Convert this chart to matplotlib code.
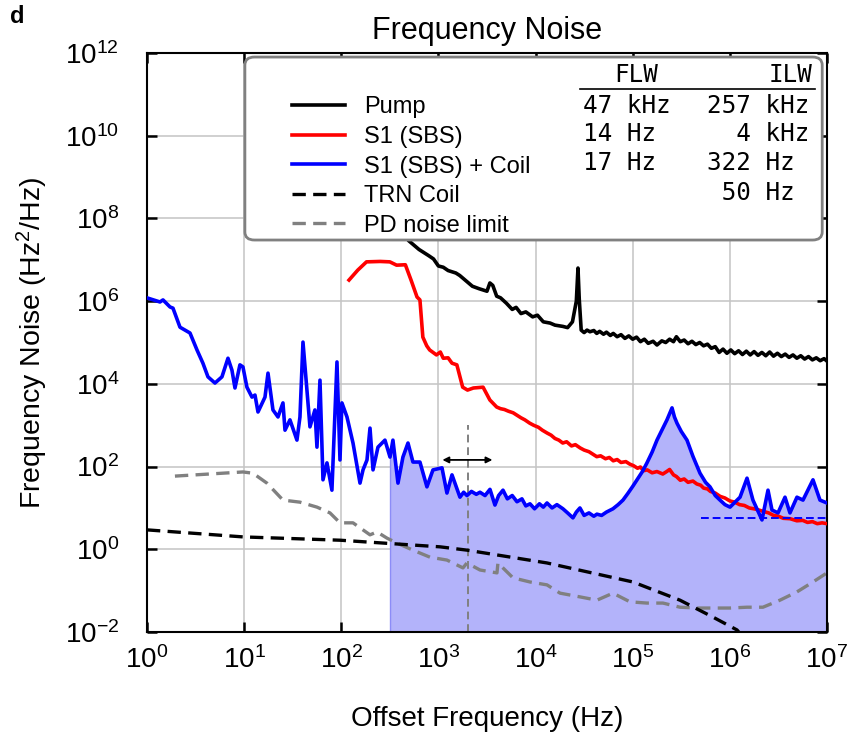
import numpy as np
import matplotlib.pyplot as plt
from matplotlib.patches import FancyBboxPatch
from matplotlib.ticker import LogLocator, NullLocator

plt.rcParams['font.family'] = ['Liberation Sans', 'DejaVu Sans']
plt.rcParams['mathtext.fontset'] = 'custom'
plt.rcParams['mathtext.rm'] = 'Liberation Sans'
plt.rcParams['mathtext.it'] = 'Liberation Sans:italic'

# values, as log10(frequency) / log10(noise)
pump_logf = [2.70, 2.80, 2.90, 2.95, 3.00, 3.05, 3.10, 3.18, 3.22, 3.28, 3.35, 3.42,
             3.50, 3.53, 3.56, 3.60, 3.64, 3.70, 3.76, 3.80, 3.85, 3.90, 3.97, 4.02,
             4.08, 4.15, 4.20, 4.28, 4.33, 4.38, 4.42, 4.437, 4.45,
             4.47, 4.50, 4.53, 4.56, 4.60, 4.63, 4.66, 4.70, 4.73, 4.77, 4.80, 4.84,
             4.88, 4.92, 4.96, 5.00, 5.04, 5.08, 5.12, 5.16, 5.21, 5.25, 5.30, 5.34,
             5.38, 5.42, 5.45, 5.49, 5.53, 5.57, 5.61, 5.65, 5.69, 5.73, 5.77, 5.81,
             5.85, 5.89, 5.93, 5.97, 6.01, 6.05, 6.09, 6.13, 6.17, 6.21, 6.25, 6.29,
             6.33, 6.37, 6.41, 6.45, 6.49, 6.53, 6.57, 6.61, 6.65, 6.69, 6.73, 6.77,
             6.81, 6.85, 6.89, 6.93, 6.97, 7.00]
pump_logS = [7.45, 7.25, 7.10, 7.02, 6.85, 6.82, 6.74, 6.68, 6.62, 6.50, 6.36, 6.30,
             6.24, 6.44, 6.38, 6.12, 6.08, 5.95, 5.80, 5.85, 5.70, 5.74, 5.62, 5.66,
             5.50, 5.47, 5.42, 5.39, 5.36, 5.50, 6.00, 6.80, 6.05,
             5.30, 5.24, 5.30, 5.26, 5.29, 5.22, 5.27, 5.20, 5.25, 5.17, 5.22, 5.14,
             5.19, 5.10, 5.16, 5.08, 5.13, 5.02, 5.08, 4.98, 5.03, 4.94, 5.04, 5.00,
             5.08, 5.02, 5.14, 5.02, 5.06, 4.97, 5.03, 4.95, 5.00, 4.92, 4.96, 4.86,
             4.90, 4.76, 4.84, 4.74, 4.82, 4.73, 4.80, 4.71, 4.79, 4.70, 4.78, 4.69,
             4.76, 4.68, 4.77, 4.67, 4.74, 4.66, 4.72, 4.64, 4.70, 4.62, 4.68, 4.60,
             4.66, 4.58, 4.63, 4.56, 4.61, 4.55]

sbs_logf = [2.08, 2.17, 2.26, 2.40, 2.50, 2.57, 2.66, 2.72, 2.78, 2.81, 2.84, 2.88,
            2.91, 2.98, 3.02, 3.05, 3.10, 3.14, 3.19, 3.25, 3.30, 3.36, 3.46, 3.53,
            3.60, 3.64, 3.68, 3.72, 3.77, 3.81, 3.85, 3.89, 3.94, 3.98, 4.03, 4.07,
            4.12, 4.16, 4.20, 4.24, 4.28, 4.32, 4.37, 4.41, 4.46, 4.50, 4.55, 4.59,
            4.63, 4.67, 4.72, 4.76, 4.80, 4.84, 4.88, 4.93, 4.97, 5.01, 5.05, 5.08,
            5.11, 5.15, 5.20, 5.25, 5.31, 5.35, 5.38, 5.42, 5.45, 5.49, 5.53, 5.57,
            5.62, 5.66, 5.70, 5.73, 5.77, 5.80, 5.85, 5.90, 5.95, 6.00, 6.05, 6.10,
            6.15, 6.20, 6.27, 6.34, 6.40, 6.45, 6.50, 6.55, 6.62, 6.69, 6.75, 6.80,
            6.85, 6.90, 6.95, 7.00]
sbs_logS = [6.51, 6.75, 6.95, 6.96, 6.95, 6.87, 6.88, 6.50, 6.10, 6.03, 5.13, 4.92,
            4.82, 4.70, 4.77, 4.62, 4.63, 4.50, 4.46, 3.92, 3.85, 3.90, 3.92, 3.61,
            3.44, 3.40, 3.38, 3.34, 3.30, 3.24, 3.18, 3.13, 3.05, 3.00, 2.95, 2.88,
            2.81, 2.76, 2.68, 2.64, 2.57, 2.60, 2.50, 2.53, 2.45, 2.40, 2.36, 2.30,
            2.24, 2.26, 2.19, 2.22, 2.14, 2.17, 2.10, 2.12, 2.06, 2.02, 1.96, 1.99,
            1.90, 1.92, 1.85, 1.88, 1.82, 1.88, 1.93, 1.80, 1.76, 1.67, 1.70, 1.62,
            1.65, 1.58, 1.55, 1.48, 1.46, 1.40, 1.36, 1.28, 1.24, 1.17, 1.14, 1.08,
            1.06, 1.00, 0.97, 0.92, 0.88, 0.82, 0.80, 0.75, 0.74, 0.69, 0.70, 0.65,
            0.67, 0.62, 0.64, 0.62]

coil_logf = [0.000, 0.134, 0.165, 0.237, 0.268, 0.340, 0.443, 0.515, 0.576, 0.628,
             0.700, 0.772, 0.834, 0.875, 0.906, 0.957, 0.988, 1.029, 1.081, 1.112,
             1.143, 1.215, 1.246, 1.297, 1.349, 1.400, 1.421, 1.472, 1.544, 1.575,
             1.606, 1.647, 1.678, 1.729, 1.750, 1.781, 1.812, 1.853, 1.904, 1.915,
             1.956, 1.987, 2.007, 2.059, 2.121, 2.193, 2.224, 2.265, 2.296, 2.327,
             2.378, 2.450, 2.502, 2.532, 2.584, 2.635, 2.687, 2.738, 2.810, 2.882,
             2.944, 3.037, 3.088, 3.140, 3.222, 3.26, 3.294, 3.34, 3.39, 3.428,
             3.48, 3.531, 3.582, 3.62, 3.665, 3.71, 3.76, 3.809, 3.86, 3.90,
             3.943, 3.99, 4.04, 4.08, 4.118, 4.17, 4.22, 4.282, 4.33, 4.385,
             4.42, 4.457, 4.50, 4.55, 4.60, 4.632, 4.68, 4.73, 4.797, 4.85,
             4.900, 4.95, 5.00, 5.044, 5.10, 5.147, 5.20, 5.250, 5.30, 5.353,
             5.405, 5.43, 5.456, 5.50, 5.559, 5.62, 5.693, 5.75, 5.796, 5.85,
             5.899, 5.95, 6.002, 6.105, 6.177, 6.238, 6.331, 6.393, 6.434, 6.496,
             6.568, 6.619, 6.691, 6.753, 6.856, 6.928, 7.000]
coil_logS = [6.08, 5.98, 6.03, 5.86, 5.83, 5.37, 5.23, 4.82, 4.50, 4.17,
             4.02, 4.17, 4.62, 4.33, 3.90, 4.46, 4.41, 3.92, 3.68, 3.73,
             3.32, 3.68, 4.26, 3.37, 3.20, 3.54, 2.88, 3.13, 2.64, 3.20,
             5.01, 3.85, 2.96, 3.37, 2.47, 4.09, 1.68, 2.09, 1.43, 2.09,
             4.53, 2.16, 3.54, 3.20, 2.57, 1.60, 1.92, 2.16, 2.93, 1.92,
             2.47, 2.64, 2.23, 2.64, 1.60, 2.23, 2.57, 2.11, 2.11, 1.51,
             1.92, 1.97, 1.36, 1.80, 1.26, 1.38, 1.30, 1.40, 1.33, 1.38,
             1.30, 1.45, 1.07, 1.30, 1.43, 1.22, 1.30, 1.15, 1.22, 1.05,
             1.10, 0.98, 1.10, 1.02, 1.12, 1.00, 1.08, 0.98, 0.88, 0.76,
             0.90, 1.00, 0.82, 0.88, 0.80, 0.85, 0.82, 0.90, 0.98, 1.08,
             1.19, 1.35, 1.52, 1.68, 1.88, 2.09, 2.35, 2.64, 2.88, 3.13,
             3.42, 3.20, 3.05, 2.85, 2.64, 2.25, 1.84, 1.62, 1.51, 1.30,
             1.19, 1.08, 1.02, 1.26, 1.72, 1.19, 0.71, 1.43, 0.95, 0.88,
             1.26, 0.88, 1.26, 1.19, 1.68, 1.19, 1.12]

trn_logf = [0.000, 0.988, 1.987, 3.016, 3.294, 4.118, 5.003, 5.487, 5.827, 6.074, 6.200]
trn_logS = [0.47, 0.30, 0.22, 0.06, -0.02, -0.33, -0.79, -1.23, -1.64, -1.95, -2.30]

pd_logf = [0.288, 0.988, 1.091, 1.235, 1.400, 1.575, 1.750, 1.884, 1.987, 2.121,
           2.296, 2.368, 2.471, 2.574, 2.738, 2.913, 3.088, 3.253, 3.294, 3.428,
           3.603, 3.613, 3.768, 3.943, 4.118, 4.252, 4.457, 4.632, 4.797, 4.972,
           5.147, 5.312, 5.487, 5.662, 5.827, 6.002, 6.177, 6.341, 6.516, 6.691,
           6.856, 7.000]
pd_logS = [1.77, 1.87, 1.84, 1.60, 1.19, 1.14, 1.02, 0.88, 0.64, 0.64,
           0.35, 0.42, 0.27, 0.15, -0.02, -0.19, -0.26, -0.45, -0.33, -0.50,
           -0.57, -0.33, -0.69, -0.79, -0.86, -1.06, -1.15, -1.23, -1.06, -1.27,
           -1.30, -1.30, -1.40, -1.42, -1.42, -1.42, -1.40, -1.40, -1.23, -1.03,
           -0.79, -0.57]

fill_start = 10 ** 2.5       # start of shaded band
floor_level = 5.7            # white-noise floor of S1 + coil (Hz^2/Hz)
floor_range = [5e5, 1e7]
beta_f = 2e3                 # vertical marker
beta_top = 1e3
arrow_f = [1.1e3, 3.6e3]
arrow_y = 145

labels = ['Pump', 'S1 (SBS)', 'S1 (SBS) + Coil', 'TRN Coil', 'PD noise limit']
flw = ['47 kHz', '14 Hz', '17 Hz']
ilw = ['257 kHz', '  4 kHz', '322 Hz', ' 50 Hz']

pump_f, pump_S = 10 ** np.array(pump_logf), 10 ** np.array(pump_logS)
sbs_f, sbs_S = 10 ** np.array(sbs_logf), 10 ** np.array(sbs_logS)
coil_f, coil_S = 10 ** np.array(coil_logf), 10 ** np.array(coil_logS)
trn_f, trn_S = 10 ** np.array(trn_logf), 10 ** np.array(trn_logS)
pd_f, pd_S = 10 ** np.array(pd_logf), 10 ** np.array(pd_logS)

fig = plt.figure(figsize=(8.48, 7.35), dpi=100)
ax = fig.add_axes([0.1733, 0.1401, 0.8019, 0.7878])

mask = coil_f >= fill_start
ax.fill_between(coil_f[mask], coil_S[mask], 1e-2, color=(0.70, 0.70, 0.98),
                edgecolor=(0.55, 0.55, 0.97), lw=1, zorder=1)

l1, = ax.plot(pump_f, pump_S, color='black', lw=2.6, zorder=3)
l2, = ax.plot(sbs_f, sbs_S, color='red', lw=2.6, zorder=3)
l3, = ax.plot(coil_f, coil_S, color='blue', lw=2.6, zorder=3)
l4, = ax.plot(trn_f, trn_S, color='black', lw=2.4, dashes=(4, 2.2), zorder=3)
l5, = ax.plot(pd_f, pd_S, color='gray', lw=2.4, dashes=(4, 2.2), zorder=2)
ax.plot(floor_range, [floor_level, floor_level], color='blue', lw=1.4, dashes=(4, 2), zorder=3)

ax.plot([beta_f, beta_f], [1e-2, beta_top], color='gray', lw=1.4, dashes=(4, 2.5), zorder=2)
ax.annotate('', xy=(arrow_f[0], arrow_y), xytext=(arrow_f[1], arrow_y),
            arrowprops=dict(arrowstyle='<|-|>', color='black', lw=1.3,
                            mutation_scale=9, shrinkA=0, shrinkB=0), zorder=4)

ax.set_xscale('log')
ax.set_yscale('log')
ax.set_xlim(1, 1e7)
ax.set_ylim(1e-2, 1e12)
ax.xaxis.set_major_locator(LogLocator(base=10, numticks=20))
ax.yaxis.set_major_locator(LogLocator(base=100, numticks=20))
ax.xaxis.set_minor_locator(NullLocator())
ax.yaxis.set_minor_locator(NullLocator())
ax.grid(True, color='#c4c4c4', lw=1.1)
ax.set_axisbelow(True)
for s in ax.spines.values():
    s.set_linewidth(1.5)
ax.tick_params(direction='in', length=7, width=1.8, top=True, right=True, labelsize=20)
ax.tick_params(axis='y', pad=20)
ax.tick_params(axis='x', pad=10)

ax.set_title('Frequency Noise', fontsize=22, pad=10)
ax.set_xlabel('Offset Frequency (Hz)', fontsize=20)
ax.set_ylabel('Frequency Noise (Hz$^2$/Hz)', fontsize=20.5)
ax.yaxis.set_label_coords(-0.142, 0.5)
ax.xaxis.set_label_coords(0.5, -0.127)

box = FancyBboxPatch((0.144, 0.677), 0.849, 0.316, transform=ax.transAxes,
                     boxstyle='round,pad=0,rounding_size=0.014',
                     facecolor='white', edgecolor='#808080', lw=2, zorder=5)
ax.add_patch(box)

leg = ax.legend([l1, l2, l3, l4, l5], labels, loc='upper left',
                bbox_to_anchor=(0.213, 0.925), frameon=False, fontsize=17,
                borderpad=0, borderaxespad=0, handlelength=2.25,
                handletextpad=0.8, labelspacing=0.32)
leg.set_zorder(6)

mono = dict(family='DejaVu Sans Mono', fontsize=17.5, va='center', transform=ax.transAxes, zorder=7)
ax.text(0.719, 0.962, 'FLW', ha='center', **mono)
ax.text(0.979, 0.962, 'ILW', ha='right', **mono)
ax.plot([0.637, 0.982], [0.938, 0.938], color='black', lw=1.2, transform=ax.transAxes, zorder=7)
rows_y = [0.908, 0.860, 0.810, 0.758]
for y, t in zip(rows_y, flw):
    ax.text(0.641, y, t, ha='left', **mono)
for y, t in zip(rows_y, ilw):
    ax.text(0.8235, y, t, ha='left', **mono)

fig.text(0.012, 0.977, 'd', fontsize=17, fontweight='bold', va='center')

fig.savefig('out.png', dpi=100)
